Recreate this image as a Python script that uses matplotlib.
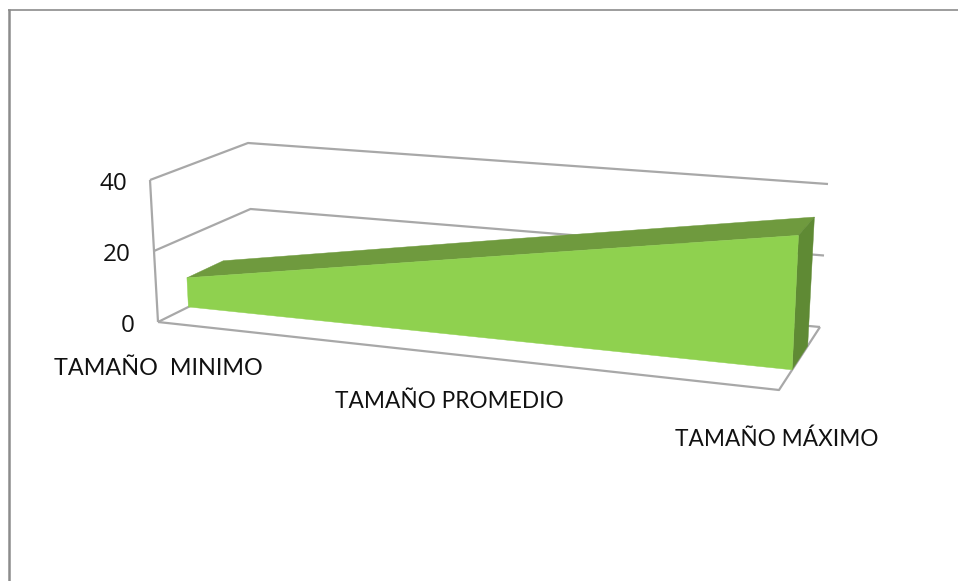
import matplotlib
matplotlib.use("Agg")
import matplotlib.pyplot as plt
from matplotlib.patches import Polygon

plt.rcParams['font.family'] = ['Lato', 'DejaVu Sans']

categories = ["TAMAÑO  MINIMO", "TAMAÑO PROMEDIO", "TAMAÑO MÁXIMO"]
values = [8.4, 22.3, 34.8]
y_ticks = [0, 20, 40]
y_max = 40
depth_front, depth_back = 0.32, 0.7

GRID = "#a8a8a8"
FRONT = "#8fd14f"
TOP = "#6f9a3e"
SIDE = "#5f8a34"
FRAME = "#8c8c8c"
TEXT = "#111111"

# Corners of the oblique 3D box in figure pixels: (along, value, depth)
C = {
    (0, 0, 0): (158, 322), (0, 1, 0): (150, 180),
    (0, 0, 1): (253, 275), (0, 1, 1): (248, 143),
    (1, 0, 0): (779, 390), (1, 1, 0): (786, 230),
    (1, 0, 1): (820, 327), (1, 1, 1): (828, 184),
}


def proj(u, v, w):
    """Trilinear projection: u along categories 0-1, v value, w depth 0-1."""
    t = v / y_max
    x = y = 0.0
    for (a, b, c), (px, py) in C.items():
        f = (u if a else 1 - u) * (t if b else 1 - t) * (w if c else 1 - w)
        x += f * px
        y += f * py
    return x, y


fig = plt.figure(figsize=(9.58, 5.81), dpi=100, facecolor="white")
ax = fig.add_axes([0, 0, 1, 1])
ax.set_xlim(0, 958)
ax.set_ylim(581, 0)
ax.axis("off")

# Chart frame
ax.plot([9, 9], [581, 9], color=FRAME, lw=1.8, solid_capstyle="butt", zorder=1)
ax.plot([8, 958], [9.5, 9.5], color=FRAME, lw=1.2, solid_capstyle="butt", zorder=1)


def seg(pts, lw=1.6):
    xs, ys = zip(*pts)
    ax.plot(xs, ys, color=GRID, lw=lw, zorder=2, solid_capstyle="butt")


# Walls, gridlines and floor
for v in y_ticks:
    seg([proj(0, v, 0), proj(0, v, 1), proj(1, v, 1)])
seg([proj(0, 0, 0), proj(0, y_max, 0)])
seg([proj(0, 0, 0), proj(1, 0, 0), proj(1, 0, 1)])

# Area
us = [i / (len(values) - 1) for i in range(len(values))]
front = [proj(u, v, depth_front) for u, v in zip(us, values)]
front += [proj(1, 0, depth_front), proj(0, 0, depth_front)]
ax.add_patch(Polygon(front, closed=True, fc=FRONT, ec=FRONT, lw=0.3, zorder=4))
top = [proj(u, v, depth_front) for u, v in zip(us, values)]
top += [proj(u, v, depth_back) for u, v in zip(us[::-1], values[::-1])]
ax.add_patch(Polygon(top, closed=True, fc=TOP, ec=TOP, lw=0.3, zorder=3))
side = [proj(1, values[-1], depth_front), proj(1, values[-1], depth_back),
        proj(1, 0, depth_back), proj(1, 0, depth_front)]
ax.add_patch(Polygon(side, closed=True, fc=SIDE, ec=SIDE, lw=0.3, zorder=3))

# Tick labels
for v in y_ticks:
    x, y = proj(0, v, 0)
    ax.text(x - 23, y + 10, str(v), ha="right", va="baseline", fontsize=17.5,
            color=TEXT, family=['Open Sans', 'DejaVu Sans'])

label_pos = [(158, 375), (449, 408), (777, 446)]
label_sizes = [16.8, 16.3, 16.3]
for name, (x, y), size in zip(categories, label_pos, label_sizes):
    ax.text(x, y, name, ha="center", va="baseline", fontsize=size, color=TEXT)

fig.savefig("out.png", dpi=100, facecolor="white")
